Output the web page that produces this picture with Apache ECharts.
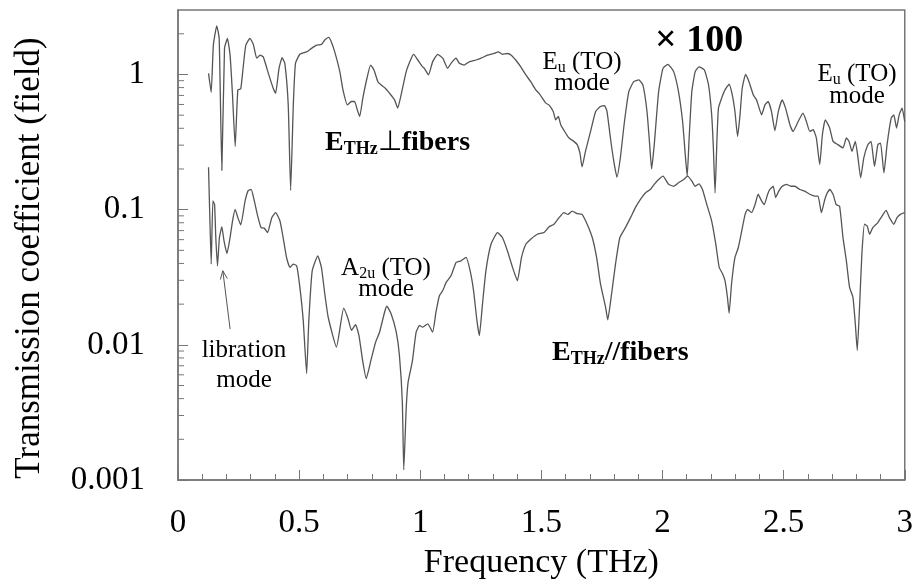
<!DOCTYPE html>
<html><head><meta charset="utf-8">
<script src="https://cdn.jsdelivr.net/npm/echarts@6/dist/echarts.min.js"></script>
<style>html,body{margin:0;padding:0;background:#fff}#c{width:916px;height:585px}</style>
</head><body><div id="c"></div>
<script>
// Frequency (THz), transmission coefficient (field); perpendicular curve is shown x100
const perpendicular = [
[0.126,1.02],[0.137,0.739],[0.146,1.65],[0.160,2.29],[0.170,1.85],[0.181,0.195],[0.192,1.56],[0.204,1.85],[0.215,1.39],[0.225,0.706],
[0.236,0.294],[0.247,0.769],[0.259,0.782],[0.270,1.175],[0.280,1.65],[0.297,1.85],[0.311,1.67],[0.325,1.32],[0.339,1.39],[0.352,1.35],
[0.373,1.02],[0.393,0.791],[0.403,0.727],[0.417,1.11],[0.430,1.33],[0.441,1.21],[0.455,0.596],[0.465,0.139],[0.476,0.596],[0.485,1.21],
[0.503,1.41],[0.531,1.47],[0.551,1.56],[0.572,1.65],[0.592,1.67],[0.606,1.80],[0.622,1.88],[0.633,1.74],[0.647,1.47],[0.668,1.05],
[0.681,0.769],[0.699,0.596],[0.716,0.631],[0.729,0.631],[0.740,0.548],[0.750,0.489],[0.763,0.668],[0.780,0.938],[0.795,1.175],[0.809,1.08],
[0.825,0.885],[0.839,0.837],[0.856,0.791],[0.873,0.727],[0.894,0.649],[0.907,0.564],[0.921,0.706],[0.942,1.05],[0.963,1.32],[0.973,1.41],
[0.990,1.28],[1.010,1.14],
[1.017,1.11],[1.034,0.992],[1.051,1.24],[1.072,1.41],[1.093,1.32],[1.113,1.11],[1.127,1.21],[1.148,1.32],[1.161,1.21],[1.182,1.175],
[1.202,1.24],[1.230,1.28],[1.251,1.32],[1.278,1.39],[1.305,1.43],[1.322,1.47],[1.339,1.41],[1.360,1.43],[1.376,1.39],[1.394,1.28],
[1.415,1.14],[1.436,0.992],[1.456,0.885],[1.477,0.769],[1.490,0.727],[1.504,0.668],[1.518,0.614],[1.531,0.596],[1.549,0.532],[1.559,0.462],
[1.570,0.489],[1.580,0.425],[1.600,0.369],[1.614,0.339],[1.634,0.320],[1.648,0.303],[1.659,0.263],[1.668,0.207],[1.682,0.270],[1.703,0.379],
[1.724,0.532],[1.744,0.579],[1.761,0.589],[1.771,0.532],[1.785,0.339],[1.799,0.228],[1.812,0.174],[1.826,0.242],[1.843,0.449],[1.861,0.747],
[1.881,0.885],[1.902,0.911],[1.919,0.837],[1.936,0.532],[1.947,0.303],[1.955,0.200],[1.966,0.303],[1.984,0.747],[2.002,1.11],[2.022,1.19],
[2.046,1.05],[2.066,0.747],[2.083,0.449],[2.094,0.255],[2.102,0.177],[2.110,0.339],[2.121,0.747],[2.135,1.05],[2.151,1.14],[2.173,1.08],
[2.190,0.837],[2.203,0.503],[2.210,0.286],[2.217,0.133],[2.225,0.339],[2.231,0.564],[2.244,0.668],[2.258,0.769],[2.275,0.847],[2.288,0.706],
[2.299,0.532],[2.310,0.348],[2.320,0.503],[2.329,0.791],[2.343,1.00],[2.357,0.885],[2.375,0.706],[2.388,0.649],[2.395,0.596],[2.409,0.503],
[2.423,0.596],[2.436,0.631],[2.450,0.532],[2.464,0.384],[2.478,0.532],[2.494,0.649],[2.508,0.564],[2.526,0.425],[2.539,0.379],[2.560,0.449],
[2.580,0.518],[2.594,0.449],[2.608,0.379],[2.622,0.390],[2.635,0.339],[2.649,0.216],[2.660,0.358],[2.672,0.462],[2.690,0.402],[2.704,0.320],
[2.724,0.303],[2.745,0.286],[2.759,0.339],[2.770,0.320],[2.782,0.270],[2.796,0.320],[2.807,0.242],[2.818,0.172],[2.831,0.242],[2.848,0.303],
[2.861,0.320],[2.875,0.209],[2.889,0.303],[2.900,0.311],[2.914,0.187],[2.927,0.303],[2.944,0.476],[2.955,0.503],[2.966,0.402],[2.977,0.503],
[2.989,0.564],[3.0,0.449]
];
const parallel = [
[0.126,0.206],[0.130,0.109],[0.137,0.0396],[0.144,0.116],[0.151,0.109],[0.156,0.0622],[0.163,0.0384],[0.171,0.0622],[0.181,0.0745],[0.190,0.0587],
[0.202,0.0474],[0.215,0.0622],[0.225,0.0824],[0.236,0.1005],[0.247,0.0873],[0.259,0.0770],[0.277,0.116],[0.290,0.139],[0.302,0.141],[0.315,0.116],
[0.329,0.0897],[0.343,0.0737],[0.356,0.0730],[0.370,0.0677],[0.387,0.0873],[0.403,0.0951],[0.421,0.0824],[0.434,0.0622],[0.448,0.0443],[0.462,0.0374],
[0.476,0.0396],[0.490,0.0384],[0.503,0.0267],[0.517,0.0151],[0.531,0.00613],[0.540,0.0151],[0.554,0.0353],[0.577,0.0455],[0.592,0.0374],[0.606,0.0238],
[0.620,0.0160],[0.654,0.00964],[0.684,0.0187],[0.702,0.0156],[0.716,0.0128],[0.733,0.0141],[0.747,0.0117],[0.763,0.00747],[0.777,0.00563],[0.798,0.00790],
[0.816,0.0105],[0.832,0.0124],[0.853,0.0175],[0.862,0.0193],[0.880,0.0169],[0.901,0.0124],[0.914,0.00835],[0.926,0.00379],[0.932,0.00119],[0.942,0.00338],
[0.950,0.00532],[0.967,0.00747],[0.983,0.0124],[0.997,0.0139],[1.010,0.0135],[1.031,0.0143],[1.051,0.0124],[1.065,0.0175],[1.079,0.0231],[1.093,0.0252],
[1.107,0.0290],[1.127,0.0324],[1.148,0.0407],[1.168,0.0418],[1.189,0.0443],[1.206,0.0353],[1.220,0.0252],[1.234,0.0151],[1.244,0.0117],[1.257,0.0201],
[1.271,0.0353],[1.292,0.0555],[1.319,0.0677],[1.339,0.0622],[1.360,0.0495],[1.381,0.0374],[1.401,0.0298],[1.418,0.0443],[1.436,0.0555],[1.456,0.0604],
[1.483,0.0658],[1.511,0.0677],[1.531,0.0745],[1.552,0.0780],[1.573,0.0873],[1.593,0.0951],[1.610,0.0923],[1.627,0.0977],[1.648,0.0935],[1.668,0.0923],
[1.689,0.0780],[1.710,0.0622],[1.728,0.0443],[1.744,0.0282],[1.765,0.0190],[1.774,0.0153],[1.788,0.0225],[1.806,0.0396],[1.824,0.0622],[1.847,0.0737],
[1.868,0.0873],[1.888,0.1035],[1.909,0.119],[1.929,0.133],[1.950,0.141],[1.966,0.154],[1.984,0.167],[2.002,0.177],[2.025,0.154],[2.046,0.149],
[2.066,0.158],[2.087,0.167],[2.104,0.177],[2.121,0.163],[2.135,0.149],[2.151,0.155],[2.165,0.141],[2.183,0.109],[2.203,0.0824],[2.220,0.0555],
[2.234,0.0374],[2.247,0.0338],[2.258,0.0298],[2.268,0.0225],[2.275,0.0171],[2.285,0.0282],[2.299,0.0443],[2.313,0.0525],[2.327,0.0696],[2.341,0.0923],
[2.351,0.1005],[2.368,0.0951],[2.382,0.109],[2.395,0.130],[2.409,0.116],[2.420,0.109],[2.434,0.130],[2.443,0.141],[2.457,0.149],[2.467,0.123],
[2.480,0.137],[2.494,0.149],[2.512,0.154],[2.530,0.149],[2.546,0.149],[2.567,0.141],[2.587,0.137],[2.608,0.130],[2.629,0.126],[2.642,0.126],
[2.656,0.0951],[2.670,0.119],[2.680,0.133],[2.691,0.141],[2.704,0.130],[2.717,0.109],[2.731,0.106],[2.745,0.0622],[2.759,0.0418],[2.772,0.0267],
[2.786,0.0225],[2.796,0.0143],[2.804,0.00910],[2.814,0.0201],[2.823,0.0469],[2.834,0.0780],[2.845,0.0757],[2.855,0.0658],[2.868,0.0737],[2.889,0.0802],
[2.902,0.0873],[2.923,0.0989],[2.937,0.0873],[2.955,0.0780],[2.968,0.0873],[2.982,0.0923],[2.999,0.0951]
];
const yMinorTicks = [0.002,0.003,0.004,0.005,0.006,0.007,0.008,0.009,
  0.02,0.03,0.04,0.05,0.06,0.07,0.08,0.09,
  0.2,0.3,0.4,0.5,0.6,0.7,0.8,0.9, 2];
const xRange = [0, 3];
const yRange = [0.001, 3];
const arrowFrom = [0.215, 0.0131];
const arrowTo = [0.185, 0.0353];

const FONT = "'Liberation Serif','Times New Roman',serif";
const AX = '#777';
const LINE = '#555';

const chart = echarts.init(document.getElementById('c'), null, {renderer: 'canvas'});
chart.setOption({
  animation: false,
  backgroundColor: '#fff',
  grid: {left: 178, right: 9, top: 10, bottom: 103, show: true, borderColor: AX, borderWidth: 1.5, backgroundColor: 'transparent'},
  xAxis: {
    type: 'value', min: xRange[0], max: xRange[1], interval: 0.5,
    name: 'Frequency (THz)', nameLocation: 'middle', nameGap: 66,
    nameTextStyle: {fontFamily: FONT, fontSize: 34, color: '#000'},
    axisLine: {show: true, lineStyle: {color: AX, width: 1.5}},
    axisTick: {show: true, inside: true, length: 10, lineStyle: {color: AX}},
    minorTick: {show: true, splitNumber: 5, length: 6, lineStyle: {color: AX}},
    splitLine: {show: false}, minorSplitLine: {show: false},
    axisLabel: {fontFamily: FONT, fontSize: 33, color: '#000', margin: 27}
  },
  yAxis: {
    type: 'log', logBase: 10, min: yRange[0], max: yRange[1],
    name: 'Transmission coefficient (field)', nameLocation: 'middle', nameGap: 131,
    nameTextStyle: {fontFamily: FONT, fontSize: 35, color: '#000', padding: [0, 26, 0, 0]},
    axisLine: {show: true, lineStyle: {color: AX, width: 1.5}},
    axisTick: {show: true, inside: true, length: 10, lineStyle: {color: AX}},
    minorTick: {show: false},
    splitLine: {show: false},
    axisLabel: {fontFamily: FONT, fontSize: 33, color: '#000', margin: 33, showMaxLabel: false}
  },
  series: [
    {type: 'line', name: 'E⊥fibers ×100', data: perpendicular, showSymbol: false, symbol: 'none', smooth: 0.15,
     lineStyle: {color: LINE, width: 1.3}, z: 3},
    {type: 'line', name: 'E//fibers', data: parallel, showSymbol: false, symbol: 'none', smooth: 0.15,
     lineStyle: {color: LINE, width: 1.3}, z: 3},
    {type: 'custom', silent: true, clip: false, data: yMinorTicks.map(v => [xRange[0], v]),
     renderItem: function (params, api) {
       const p = api.coord([api.value(0), api.value(1)]);
       return {type: 'line', shape: {x1: p[0], y1: p[1], x2: p[0] + 6, y2: p[1]},
               style: {stroke: AX, lineWidth: 1}};
     }, z: 2}
  ]
});

const a = chart.convertToPixel({gridIndex: 0}, arrowFrom);
const b = chart.convertToPixel({gridIndex: 0}, arrowTo);
const ang = Math.atan2(b[1] - a[1], b[0] - a[0]);
const hl = 9, ha = 0.4;
const h1 = [b[0] - hl * Math.cos(ang - ha), b[1] - hl * Math.sin(ang - ha)];
const h2 = [b[0] - hl * Math.cos(ang + ha), b[1] - hl * Math.sin(ang + ha)];

const sub = {fontFamily: FONT, fontSize: 16, padding: [12, 0, 0, 0]};
const norm = {fontFamily: FONT, fontSize: 25};
function txt(x, y, text, rich, align, fontSize, weight) {
  return {type: 'text', x: x, y: y, z: 10, style: {text: text, rich: rich, fontFamily: FONT,
    fontSize: fontSize || 25, fontWeight: weight || 'normal', fill: '#000', align: align || 'center', verticalAlign: 'middle'}};
}
const boldRich = {
  e: {fontFamily: FONT, fontSize: 28, fontWeight: 'bold'},
  p: {fontFamily: FONT, fontSize: 28, fontWeight: 'normal'},
  s: {fontFamily: FONT, fontSize: 18, fontWeight: 'bold', padding: [12, 0, 0, 0]}
};
const modeRich = {m: norm, s: sub};
chart.setOption({
  graphic: [
    txt(655, 41, '× 100', null, 'left', 38, 'bold'),
    txt(325, 143, '{e|E}{s|THz}{p|⊥}{e|fibers}', boldRich, 'left'),
    txt(552, 353, '{e|E}{s|THz}{e|//fibers}', boldRich, 'left'),
    txt(582, 62, '{m|E}{s|u}{m| (TO)}', modeRich),
    txt(582, 83, 'mode'),
    txt(857, 74, '{m|E}{s|u}{m| (TO)}', modeRich),
    txt(857, 96, 'mode'),
    txt(386, 268, '{m|A}{s|2u}{m| (TO)}', modeRich),
    txt(386, 289, 'mode'),
    txt(244, 350, 'libration'),
    txt(244, 380, 'mode'),
    {type: 'polyline', z: 10, shape: {points: [a, b]}, style: {stroke: '#555', lineWidth: 1, fill: null}},
    {type: 'polyline', z: 10, shape: {points: [h1, b, h2]}, style: {stroke: '#555', lineWidth: 1, fill: null}}
  ]
});
</script>
</body></html>
